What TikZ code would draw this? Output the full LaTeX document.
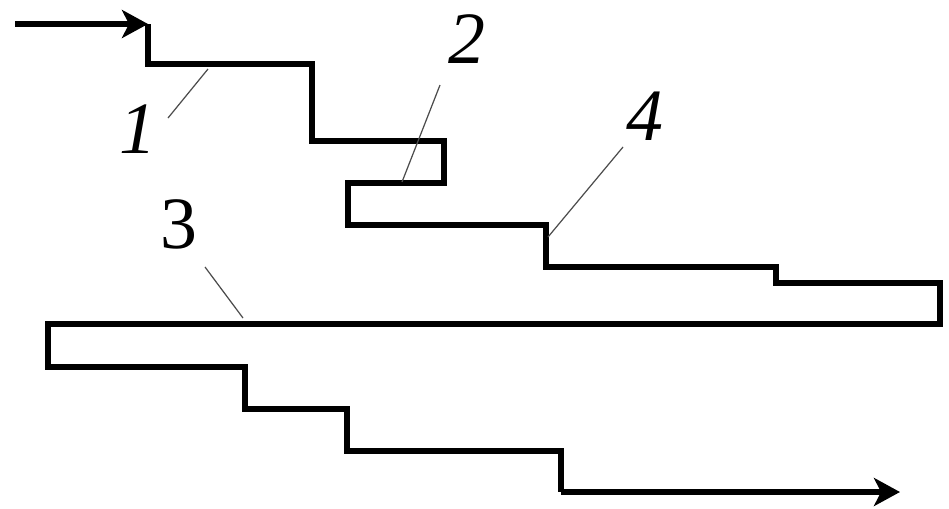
\documentclass[tikz,border=0pt]{standalone}
\usepackage{fontspec}
\setmainfont{Liberation Serif}
\usetikzlibrary{arrows.meta}

\begin{document}
\begin{tikzpicture}[
  x=0.02cm, y=-0.02cm,
  flow/.style={line width=3pt, line join=miter},
  arr/.style={-{Stealth[length=0.52cm, width=0.56cm, inset=0.14cm]}},
  lead/.style={line width=0.7pt, black!70},
  num/.style={font=\fontsize{42}{42}\itshape\selectfont, inner sep=0pt}
]
  \useasboundingbox (0,0) rectangle (949,508);

  % Upper stepped channel
  \coordinate (in) at (15,24);
  \coordinate (top) at (148,24);
  \draw[flow, arr] (in) -- (top);
  \draw[flow] (top) -- (148,64) -- (312,64) -- (312,141) -- (444,141)
    -- (444,183) -- (348,183) -- (348,225) -- (546,225) -- (546,267)
    -- (776,267) -- (776,283) -- (940,283) -- (940,324) -- (48,324)
    -- (48,367) -- (245,367) -- (245,409) -- (347,409) -- (347,451)
    -- (561,451) -- (561,492) coordinate (low);

  % Lower outlet
  \coordinate (out) at (900,492);
  \draw[flow, arr] (low) -- (out);

  % Labels
  \node[num] (n1) at (138,129) {1};
  \node[num] (n2) at (467,39) {2};
  \node[num, font=\fontsize{42}{42}\upshape\selectfont] (n3) at (179,224) {3};
  \node[num] (n4) at (645,116) {4};
  \coordinate (p1) at (208,69);
  \coordinate (p2) at (402,182);
  \coordinate (p3) at (243,318);
  \coordinate (p4) at (548,237);
  \draw[lead] (168,118) -- (p1);
  \draw[lead] (440,85) -- (p2);
  \draw[lead] (205,267) -- (p3);
  \draw[lead] (623,147) -- (p4);
\end{tikzpicture}
\end{document}
